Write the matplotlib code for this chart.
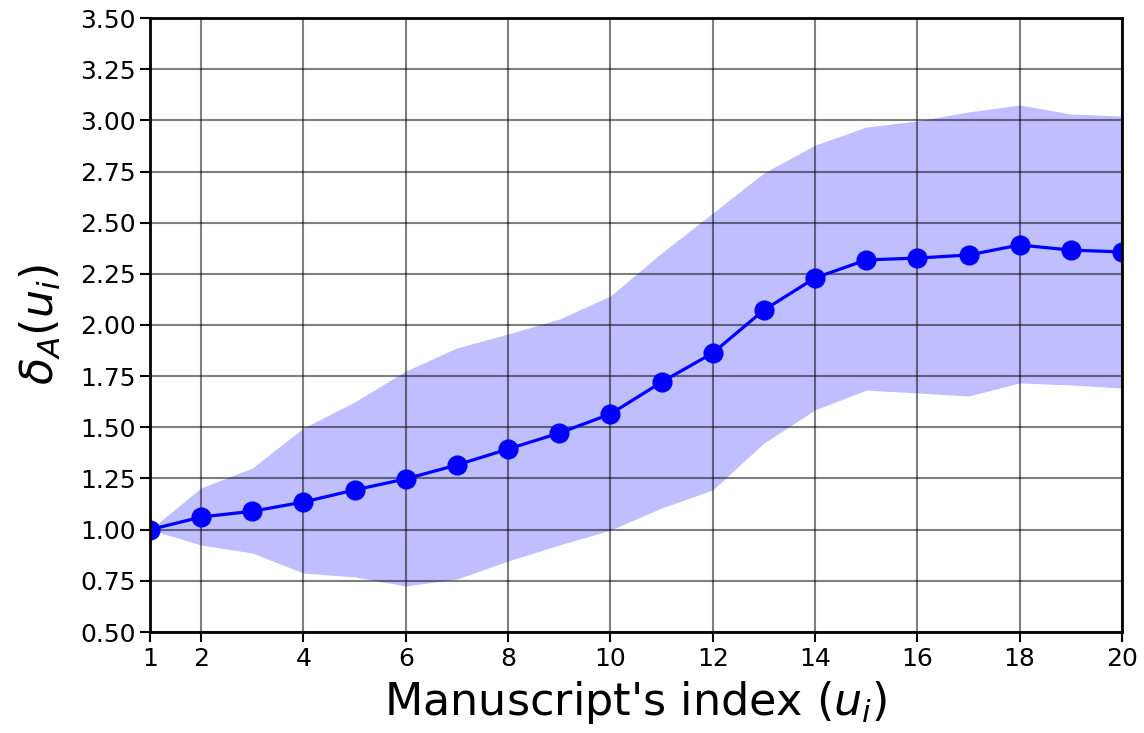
import matplotlib
matplotlib.use("Agg")
import matplotlib.pyplot as plt
import numpy as np

x = list(range(1, 21))
mean = [1.00, 1.062, 1.09, 1.135, 1.194, 1.248, 1.316, 1.394, 1.472, 1.565,
        1.721, 1.863, 2.073, 2.23, 2.318, 2.327, 2.342, 2.391, 2.366, 2.357]
upper = [1.00, 1.204, 1.301, 1.497, 1.624, 1.775, 1.888, 1.956, 2.029, 2.142,
         2.352, 2.547, 2.743, 2.879, 2.967, 2.997, 3.041, 3.075, 3.031, 3.021]
lower = [1.00, 0.925, 0.886, 0.788, 0.769, 0.725, 0.759, 0.847, 0.925, 0.998,
         1.106, 1.194, 1.423, 1.585, 1.682, 1.668, 1.653, 1.717, 1.707, 1.692]
xticks = [1, 2, 4, 6, 8, 10, 12, 14, 16, 18, 20]
yticks = [0.5, 0.75, 1.0, 1.25, 1.5, 1.75, 2.0, 2.25, 2.5, 2.75, 3.0, 3.25, 3.5]

fig = plt.figure(figsize=(11.44, 7.33), dpi=100)
ax = fig.add_axes([150/1144, 1 - 632/733, 972/1144, 614/733])
ax.fill_between(x, lower, upper, color='blue', alpha=0.25, linewidth=0)
ax.plot(x, mean, color='blue', marker='o', markersize=13.5, linewidth=2.3)
ax.set_xlim(1, 20)
ax.set_ylim(0.5, 3.5)
ax.set_xticks(xticks)
ax.set_yticks(yticks)
ax.set_yticklabels([f"{v:.2f}" for v in yticks])
ax.grid(True, color='black', alpha=0.5, linewidth=1.5)
ax.tick_params(labelsize=18, width=1.5, length=7)
for s in ax.spines.values():
    s.set_linewidth(2)
ax.set_xlabel("Manuscript's index ($u_i$)", fontsize=32, labelpad=6)
ax.set_ylabel(r"$\delta_A(u_i)$", fontsize=32, labelpad=12)
fig.savefig("out.png", dpi=100)
